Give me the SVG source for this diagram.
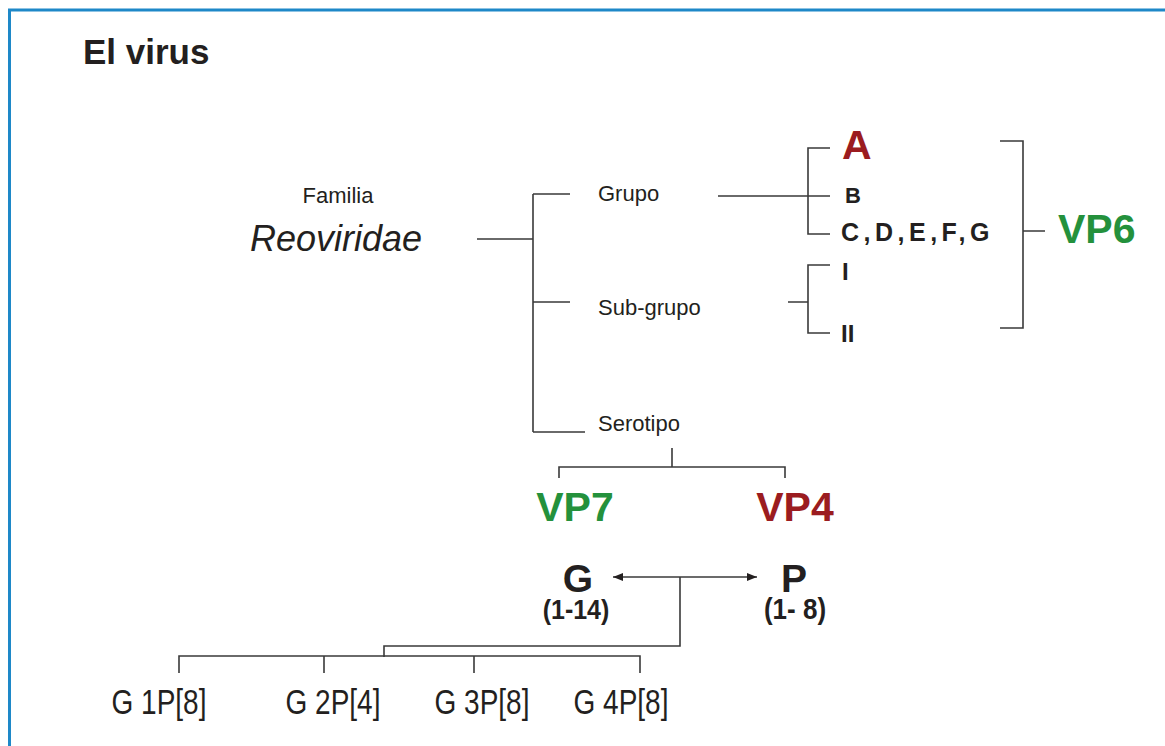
<svg xmlns="http://www.w3.org/2000/svg" width="1165" height="746" viewBox="0 0 1165 746">
<defs>
<style>
.t{font-family:"Liberation Sans",Arial,sans-serif;fill:#231f20}
.b{font-weight:bold}
.red{fill:#9b1c20}
.grn{fill:#24913c}
.ln{fill:none;stroke:#3a3a3a;stroke-width:1.6}
</style>
<marker id="ah" viewBox="0 0 10 10" refX="10" refY="5" markerWidth="10" markerHeight="10" markerUnits="userSpaceOnUse" orient="auto-start-reverse">
<path d="M0,1 L10,5 L0,9 Z" fill="#231f20"/>
</marker>
</defs>
<rect width="1165" height="746" fill="#ffffff"/>
<rect x="9.5" y="10" width="1200" height="800" fill="none" stroke="#1e88c8" stroke-width="3"/>
<g id="title"><text class="t b" x="83" y="64" font-size="35">El virus</text></g>

<g id="connectors">
<path class="ln" d="M477,239 H533 M533,194 V432 M533,194 H570 M533,302 H570 M533,432 H585"/>
<path class="ln" d="M718,196 H830 M830,148 H808 V234 H830"/>
<path class="ln" d="M788,302 H808 M830,265 H808 V333 H830"/>
<path class="ln" d="M1000,141 H1023 V328 H1000 M1023,231 H1045"/>
<path class="ln" d="M672,448 V467 M559,478 V467 H785 V478"/>
<path class="ln" d="M613,577 H757" marker-start="url(#ah)" marker-end="url(#ah)"/>
<path class="ln" d="M680,577 V646 H384 V657"/>
<path class="ln" d="M179,673 V656 H640 V673 M324,656 V673 M474,656 V673"/>
</g>

<g id="familia">
<text class="t" x="338" y="203" font-size="22" text-anchor="middle">Familia</text>
<text class="t" x="336" y="251" font-size="36" font-style="italic" text-anchor="middle">Reoviridae</text>
</g>
<g id="grupo"><text class="t" x="598" y="201" font-size="22">Grupo</text></g>
<g id="subgrupo"><text class="t" x="598" y="315" font-size="22">Sub-grupo</text></g>
<g id="serotipo"><text class="t" x="598" y="431" font-size="22">Serotipo</text></g>

<g id="gA"><text class="t b red" x="842" y="159" font-size="41">A</text></g>
<g id="gB"><text class="t b" x="845" y="203" font-size="22">B</text></g>
<g id="gC"><text class="t b" x="841" y="241" font-size="25" letter-spacing="4.5">C,D,E,F,G</text></g>
<g id="sI"><text class="t b" x="842" y="280" font-size="24">I</text></g>
<g id="sII"><text class="t b" x="841" y="342" font-size="24">II</text></g>
<g id="vp6"><text class="t b grn" x="1058" y="243" font-size="41">VP6</text></g>

<g id="vp7"><text class="t b grn" x="575" y="521" font-size="41" text-anchor="middle">VP7</text></g>
<g id="vp4"><text class="t b red" x="795" y="521" font-size="41" text-anchor="middle">VP4</text></g>

<g id="G">
<text class="t b" x="578" y="592" font-size="39" text-anchor="middle">G</text>
<text class="t b" transform="translate(576,619) scale(1,1.1)" font-size="25" text-anchor="middle">(1-14)</text>
</g>
<g id="P">
<text class="t b" x="794" y="592" font-size="39" text-anchor="middle">P</text>
<text class="t b" transform="translate(795,619) scale(1,1.1)" font-size="26" text-anchor="middle">(1- 8)</text>
</g>

<g id="g1p8"><text class="t" transform="translate(159,714) scale(1,1.25)" font-size="28" text-anchor="middle">G 1P[8]</text></g>
<g id="g2p4"><text class="t" transform="translate(333,714) scale(1,1.25)" font-size="28" text-anchor="middle">G 2P[4]</text></g>
<g id="g3p8"><text class="t" transform="translate(482,714) scale(1,1.25)" font-size="28" text-anchor="middle">G 3P[8]</text></g>
<g id="g4p8"><text class="t" transform="translate(621,714) scale(1,1.25)" font-size="28" text-anchor="middle">G 4P[8]</text></g>
</svg>
